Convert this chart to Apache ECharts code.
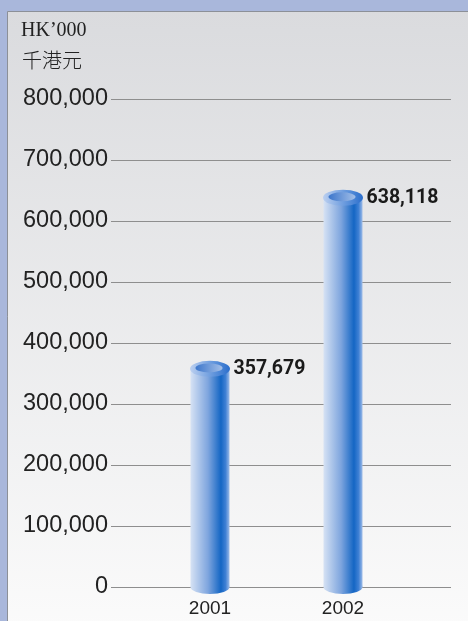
<!DOCTYPE html>
<html>
<head>
<meta charset="utf-8">
<script src="https://cdn.jsdelivr.net/npm/echarts@6/dist/echarts.min.js"></script>
<style>
  html, body { margin: 0; padding: 0; background: #a9b7db; }
  #revenue-chart { width: 468px; height: 621px; }
</style>
</head>
<body>
<div id="revenue-chart"></div>
<script>
const years = ['2001', '2002'];
const amounts = [357679, 638118];
const unitEn = 'HK’000';
const unitZh = '千港元';

const fmt = (v) => String(v).replace(/\B(?=(\d{3})+(?!\d))/g, ',');

// cylinder body, light on the left, deep blue towards the right edge
const bodyColor = {
  type: 'linear', x: 0, y: 0, x2: 1, y2: 0,
  colorStops: [
    {offset: 0, color: '#d6e2f4'},
    {offset: 0.45, color: '#7ea5de'},
    {offset: 0.78, color: '#1466c4'},
    {offset: 0.9, color: '#3f80d4'},
    {offset: 1, color: '#9cbbe8'}
  ]
};

const options = {
  animation: false,
  graphic: [
    {
      type: 'rect',
      shape: {x: 7.5, y: 11.5, width: 470, height: 620},
      style: {
        fill: {
          type: 'linear', x: 0, y: 0, x2: 0, y2: 1,
          colorStops: [
            {offset: 0, color: '#dadbde'},
            {offset: 1, color: '#fbfbfb'}
          ]
        },
        stroke: '#8c9098',
        lineWidth: 1
      },
      z: -10
    },
    {
      type: 'text', left: 21, top: 21,
      style: {text: unitEn, font: '20px "Liberation Serif", serif', fill: '#222'}
    },
    {
      type: 'text', left: 22, top: 50,
      style: {text: unitZh, font: '300 20px "Noto Sans CJK TC"', fill: '#222'}
    }
  ],
  grid: [
    {left: 111, right: 17, top: 99, bottom: 34},
    {left: 143.5, right: 58.5, top: 99, bottom: 34}
  ],
  xAxis: [
    {gridIndex: 0, type: 'value', show: false, min: 0, max: 1},
    {
      gridIndex: 1, type: 'category', data: years,
      axisLine: {show: false}, axisTick: {show: false},
      axisLabel: {color: '#222', fontSize: 19, fontFamily: 'Liberation Sans', margin: 12}
    }
  ],
  yAxis: [
    {
      gridIndex: 0, type: 'value', min: 0, max: 800000, interval: 100000,
      axisLine: {show: false}, axisTick: {show: false},
      axisLabel: {
        color: '#222', fontSize: 23.5, fontFamily: 'Liberation Sans', margin: 3,
        formatter: fmt
      },
      splitLine: {lineStyle: {color: '#8e8e8e', width: 1}}
    },
    {gridIndex: 1, type: 'value', min: 0, max: 800000, show: false}
  ],
  series: [
    {
      type: 'bar', xAxisIndex: 1, yAxisIndex: 1,
      data: amounts, barWidth: 39,
      itemStyle: {color: bodyColor},
      label: {
        show: true, position: [43, 0], align: 'left', verticalAlign: 'middle',
        formatter: (p) => fmt(p.value),
        color: '#1a1a1a', fontSize: 19.5, fontWeight: 'bold',
        fontFamily: 'Roboto'
      },
      z: 2
    },
    {
      // rounded bottom
      type: 'pictorialBar', xAxisIndex: 1, yAxisIndex: 1,
      data: amounts, symbol: 'circle', symbolSize: [39, 14],
      symbolPosition: 'start', symbolOffset: [0, '50%'],
      itemStyle: {color: bodyColor}, z: 1
    },
    {
      // top rim
      type: 'pictorialBar', xAxisIndex: 1, yAxisIndex: 1,
      data: amounts, symbol: 'circle', symbolSize: [40, 16],
      symbolPosition: 'end', symbolOffset: [0, '-50%'],
      itemStyle: {
        color: {
          type: 'linear', x: 0, y: 0, x2: 1, y2: 0,
          colorStops: [
            {offset: 0, color: '#bcd0f0'},
            {offset: 0.65, color: '#5a90da'},
            {offset: 1, color: '#2a6dcb'}
          ]
        }
      },
      z: 3
    },
    {
      // inner hollow of the top
      type: 'pictorialBar', xAxisIndex: 1, yAxisIndex: 1,
      data: amounts, symbol: 'circle', symbolSize: [27, 9],
      symbolPosition: 'end', symbolOffset: [-1, '-60%'],
      itemStyle: {
        color: {
          type: 'linear', x: 0, y: 0, x2: 1, y2: 0,
          colorStops: [
            {offset: 0, color: '#3c76cb'},
            {offset: 1, color: '#a3bfe8'}
          ]
        }
      },
      z: 4
    }
  ]
};

const chart = echarts.init(document.getElementById('revenue-chart'));
chart.setOption(options);
</script>
</body>
</html>
